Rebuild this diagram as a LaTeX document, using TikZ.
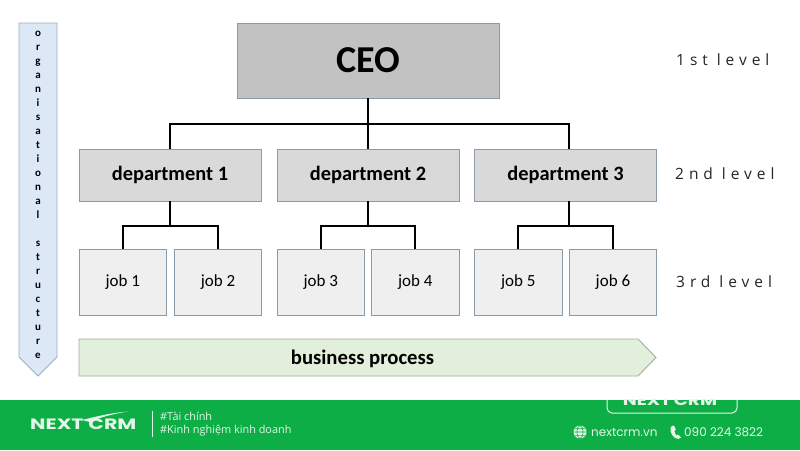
\documentclass[tikz,border=0pt]{standalone}
\usepackage{fontspec}
\setmainfont{Carlito}
\newfontfamily\lvlfont[LetterSpace=32]{Open Sans}
\newfontfamily\tagfont{Open Sans}
\newfontfamily\popfont{Poppins}
\usetikzlibrary{calc}
\definecolor{ceofill}{HTML}{C2C2C2}
\definecolor{deptfill}{HTML}{D9D9D9}
\definecolor{jobfill}{HTML}{EFEFEF}
\definecolor{boxline}{HTML}{8A9AA8}
\definecolor{sidefill}{HTML}{DCE8F5}
\definecolor{sideline}{HTML}{9DB0C0}
\definecolor{procfill}{HTML}{E2EFDA}
\definecolor{procline}{HTML}{A3AE96}
\definecolor{bandgreen}{HTML}{0DAE45}
\definecolor{softwhite}{HTML}{E4F6EA}
\tikzset{
  x=1pt,y=-1pt,
  box/.style={draw=boxline,line width=0.9pt,inner sep=0pt,outer sep=0pt,anchor=north west},
  ceobox/.style={box,fill=ceofill,minimum width=262pt,minimum height=75pt,font=\bfseries\fontsize{38}{38}\selectfont},
  deptbox/.style={box,fill=deptfill,minimum width=182pt,minimum height=52pt,font=\bfseries\fontsize{20.4}{20.4}\selectfont},
  jobbox/.style={box,fill=jobfill,minimum width=87.5pt,minimum height=66pt,font=\fontsize{17}{17}\selectfont},
  link/.style={draw=black,line width=2.2pt},
  lvl/.style={anchor=west,inner sep=0pt,font=\lvlfont\fontsize{15.5}{15.5}\selectfont,text=black!85},
  bandtext/.style={anchor=west,inner sep=0pt,text=softwhite},
}
\begin{document}
\begin{tikzpicture}
\useasboundingbox (0,0) rectangle (800,450);
\fill[white] (0,0) rectangle (800,450);

% side arrow
\draw[draw=sideline,fill=sidefill,line width=0.9pt] (19,23) -- (57,23) -- (57,357) -- (38,376) -- (19,357) -- cycle;
\node[inner sep=0pt,anchor=north,align=center,font=\bfseries\fontsize{11}{13.98}\selectfont] (side) at (38,31)
  {o\\r\\g\\a\\n\\i\\s\\a\\t\\i\\o\\n\\a\\l\\ \\s\\t\\r\\u\\c\\t\\u\\r\\e};

% boxes
\node[ceobox] (ceo) at (237,23) {CEO};
\node[deptbox] (d1) at (79,149) {department 1};
\node[deptbox] (d2) at (277,149) {department 2};
\node[deptbox] (d3) at (474.5,149) {department 3};
\node[jobbox] (j1) at (79,249) {job 1};
\node[jobbox] (j2) at (174.3,249) {job 2};
\node[jobbox] (j3) at (277,249) {job 3};
\node[jobbox] (j4) at (371.5,249) {job 4};
\node[jobbox] (j5) at (474.5,249) {job 5};
\node[jobbox] (j6) at (569.2,249) {job 6};

% connectors
\coordinate (busA) at ($(ceo.south)+(0,25.7)$);
\coordinate (d3top) at ($(d3.north)+(3.5,0)$);
\coordinate (d3bot) at ($(d3.south)+(3.5,0)$);
\draw[link] (ceo.south) -- (busA);
\draw[link] (d1.north) |- (busA) -| (d3top);
\draw[link] (busA) -- (d2.north);
\foreach \d/\s/\a/\b in {d1/d1.south/j1/j2,d2/d2.south/j3/j4,d3/d3bot/j5/j6}{
  \coordinate (bus\d) at ($(\s)+(0,24.7)$);
  \draw[link] (\s) -- (bus\d);
  \draw[link] (\a.north) |- (bus\d) -| (\b.north);
}

% process arrow
\draw[draw=procline,fill=procfill,line width=0.9pt] (79,339) -- (638,339) -- (656,357.5) -- (638,376) -- (79,376) -- cycle;
\node[inner sep=0pt,font=\bfseries\fontsize{20.7}{20.7}\selectfont] (proc) at (362.5,358.5) {business process};

% level labels
\node[lvl] (l1) at (676,60) {1st level};
\node[lvl] (l2) at (675,174) {2nd level};
\node[lvl] (l3) at (676,282) {3rd level};

% footer band
\fill[bandgreen] (0,399.5) rectangle (800,450);
\begin{scope}
\clip (0,399.5) rectangle (800,450);
\draw[softwhite,line width=1pt,rounded corners=5pt] (607,380) rectangle (737,413);
\node[inner sep=0pt,text=softwhite,font=\popfont\bfseries\fontsize{14}{14}\selectfont] (toplogo) at (670,400.5) {\scalebox{1.33}[1]{NEXT\hspace{2pt}CRM}};
\end{scope}

% left logo
\node[bandtext,font=\popfont\bfseries\fontsize{15}{15}\selectfont] (logo) at (30,424.5) {\scalebox{1.37}[1]{NEXT\hspace{3.5pt}CRM}};
\fill[softwhite] (82,420) .. controls (94,417) and (110,413) .. (128,411.5) .. controls (112,414) and (98,418) .. (90,422) -- cycle;
\draw[softwhite,line width=1pt] (152,411) -- (152,437);
\node[bandtext,font=\tagfont\fontsize{10.9}{10.9}\selectfont] (tag1) at (160,416.5) {\#Tài chính};
\node[bandtext,font=\tagfont\fontsize{10.9}{10.9}\selectfont] (tag2) at (160,431) {\#Kinh nghiệm kinh doanh};

% contact
\fill[softwhite] (580,432) circle (6.5pt);
\draw[bandgreen,line width=0.6pt] (580,432) ellipse (3pt and 6.5pt) (573.5,432) -- (586.5,432) (574.5,428.7) -- (585.5,428.7) (574.5,435.3) -- (585.5,435.3);
\node[bandtext,font=\popfont\fontsize{12}{12}\selectfont] (web) at (591,432) {nextcrm.vn};
\fill[softwhite] (672,426) .. controls (669,428) and (670,434) .. (675,438) .. controls (677,439.5) and (680,439) .. (681,437.5) -- (678,434.5) -- (676.3,435.5) .. controls (675,434) and (674.5,432) .. (674.5,431) -- (675.8,429.5) -- (674,425.5) -- cycle;
\node[bandtext,font=\popfont\fontsize{12}{12}\selectfont] (tel) at (684,432) {090 224 3822};
\end{tikzpicture}
\end{document}
